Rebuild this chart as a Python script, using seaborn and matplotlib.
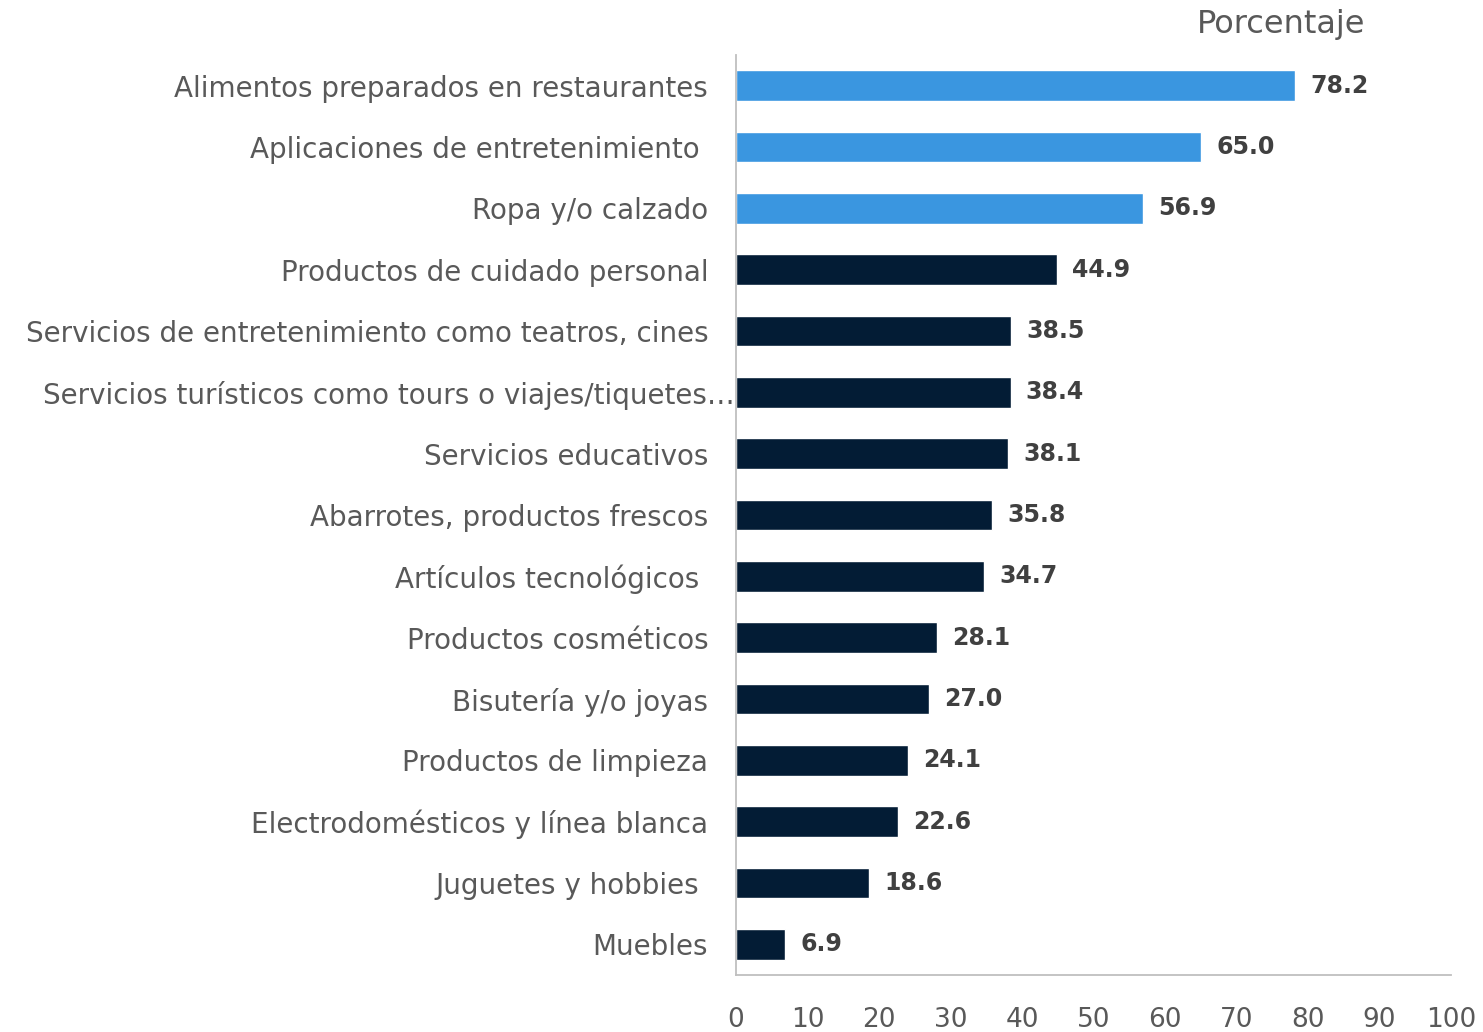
import matplotlib
matplotlib.use("Agg")
import matplotlib.pyplot as plt
import matplotlib.transforms as mtransforms
import seaborn as sns
import pandas as pd

# Categories (top to bottom) and percentages
categorias = [
    "Alimentos preparados en restaurantes",
    "Aplicaciones de entretenimiento ",
    "Ropa y/o calzado",
    "Productos de cuidado personal",
    "Servicios de entretenimiento como teatros, cines",
    "Servicios turísticos como tours o viajes/tiquetes…",
    "Servicios educativos",
    "Abarrotes, productos frescos",
    "Artículos tecnológicos ",
    "Productos cosméticos",
    "Bisutería y/o joyas",
    "Productos de limpieza",
    "Electrodomésticos y línea blanca",
    "Juguetes y hobbies ",
    "Muebles",
]
porcentajes = [78.2, 65.0, 56.9, 44.9, 38.5, 38.4, 38.1, 35.8, 34.7,
               28.1, 27.0, 24.1, 22.6, 18.6, 6.9]
grupo = ["destacado"] * 3 + ["resto"] * 12
ticks_x = [0, 10, 20, 30, 40, 50, 60, 70, 80, 90, 100]

colores = {"destacado": "#3A96E0", "resto": "#031C35"}
gris_texto = "#595959"

df = pd.DataFrame({"categoria": categorias, "porcentaje": porcentajes,
                   "grupo": grupo})

sns.set_theme(style="white")
plt.rcParams["font.family"] = ["DejaVu Sans"]

fig = plt.figure(figsize=(14.83, 10.32), dpi=100)
ax = fig.add_axes([0.4963, 0.0552, 0.4821, 0.8915])

sns.barplot(data=df, x="porcentaje", y="categoria", hue="grupo",
            palette=colores, dodge=False, width=0.5, legend=False,
            orient="h", ax=ax, saturation=1)

ax.set_xlim(0, 100)
ax.set_ylim(len(categorias) - 0.5, -0.5)
ax.set_xticks(ticks_x)
ax.set_xticklabels([str(t) for t in ticks_x])
ax.set_xlabel("")
ax.set_ylabel("")

for cont in ax.containers:
    ax.bar_label(cont, fmt="%.1f", padding=11, fontsize=17,
                 fontweight="bold", color="#404040")

ax.tick_params(axis="y", length=0, pad=20, labelsize=20,
               labelcolor=gris_texto)
ax.tick_params(axis="x", length=0, pad=23, labelsize=19,
               labelcolor=gris_texto)

for side in ("top", "right"):
    ax.spines[side].set_visible(False)
for side in ("left", "bottom"):
    ax.spines[side].set_color("#BFBFBF")
    ax.spines[side].set_linewidth(1.3)

# the truncated label runs up to the axis line
for lbl in ax.get_yticklabels():
    if lbl.get_text().endswith("…"):
        lbl.set_transform(lbl.get_transform() +
                          mtransforms.ScaledTranslation(0.27, 0, fig.dpi_scale_trans))

ax.annotate("Porcentaje", xy=(0.88, 1.0), xycoords="axes fraction",
            xytext=(0, 22), textcoords="offset points",
            ha="right", va="center", fontsize=23, color=gris_texto)

fig.savefig("out.png", dpi=100)
